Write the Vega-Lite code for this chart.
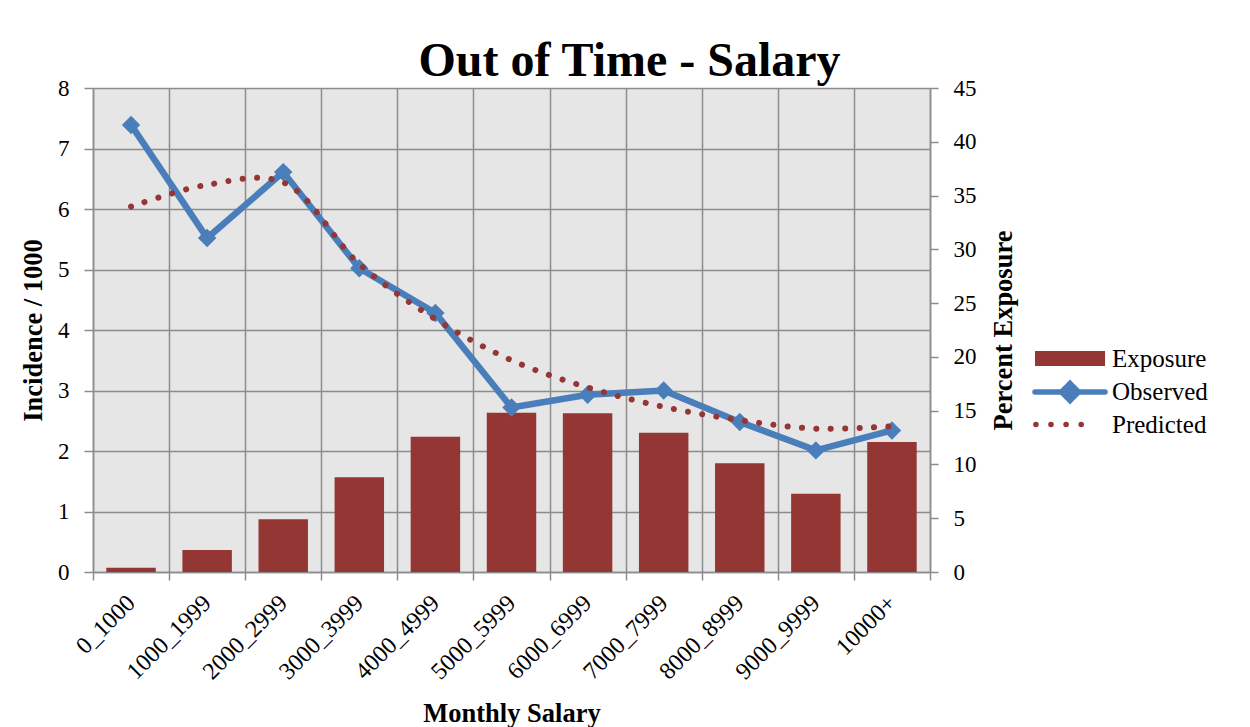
{
  "$schema": "https://vega.github.io/schema/vega-lite/v6.json",
  "autosize": {"type": "none"},
  "padding": {"left": 93, "top": 88, "right": 320, "bottom": 155},
  "width": 837,
  "height": 484,
  "background": "white",
  "title": {
    "text": "Out of Time - Salary",
    "fontSize": 48,
    "fontWeight": "bold",
    "font": "Liberation Serif",
    "color": "black",
    "anchor": "middle",
    "dx": 118,
    "dy": 13,
    "offset": 4
  },
  "data": {
    "values": [
      {"salary": "0_1000", "exposure": 0.4, "observed": 7.39, "predicted": 6.04},
      {"salary": "1000_1999", "exposure": 2.05, "observed": 5.52, "predicted": 6.4},
      {"salary": "2000_2999", "exposure": 4.9, "observed": 6.61, "predicted": 6.44},
      {"salary": "3000_3999", "exposure": 8.8, "observed": 5.02, "predicted": 5.09},
      {"salary": "4000_4999", "exposure": 12.58, "observed": 4.28, "predicted": 4.18},
      {"salary": "5000_5999", "exposure": 14.81, "observed": 2.72, "predicted": 3.5},
      {"salary": "6000_6999", "exposure": 14.75, "observed": 2.93, "predicted": 3.05},
      {"salary": "7000_7999", "exposure": 12.95, "observed": 3.0, "predicted": 2.73},
      {"salary": "8000_8999", "exposure": 10.1, "observed": 2.48, "predicted": 2.51},
      {"salary": "9000_9999", "exposure": 7.28, "observed": 2.01, "predicted": 2.37},
      {"salary": "10000+", "exposure": 12.09, "observed": 2.34, "predicted": 2.41}
    ]
  },
  "encoding": {
    "x": {
      "field": "salary",
      "type": "nominal",
      "sort": null,
      "scale": {"paddingInner": 0, "paddingOuter": 0},
      "axis": {
        "title": "Monthly Salary",
        "labelAngle": -45,
        "labelAlign": "right",
        "labelBaseline": "middle",
        "labelPadding": 19,
        "labelFontSize": 24,
        "tickBand": "extent",
        "grid": true,
        "tickSize": 8,
        "titlePadding": 17
      }
    }
  },
  "layer": [
    {
      "mark": {"type": "bar", "width": {"band": 0.65}},
      "encoding": {
        "y": {
          "field": "exposure",
          "type": "quantitative",
          "scale": {"domain": [0, 45], "nice": false},
          "axis": {
            "orient": "right",
            "title": "Percent Exposure",
            "values": [0, 5, 10, 15, 20, 25, 30, 35, 40, 45],
            "grid": false,
            "tickSize": 8,
            "labelPadding": 15,
            "titleAngle": 270,
            "titleBaseline": "top",
            "titlePadding": 14
          }
        },
        "color": {
          "datum": "Exposure",
          "type": "nominal",
          "scale": {
            "domain": ["Exposure", "Observed", "Predicted"],
            "range": ["#943634", "#4a7ebb", "#943634"]
          },
          "legend": {
            "title": null,
            "orient": "none",
            "legendX": 938,
            "legendY": 258,
            "symbolSize": 289,
            "labelFontSize": 25,
            "labelOffset": 56,
            "rowPadding": 0.5,
            "encode": {
              "symbols": {
                "update": {
                  "shape": {"signal": "datum.value === 'Exposure' ? 'M-1,-0.88H7.24V0.88H-1Z' : datum.value === 'Observed' ? 'M-1,0H7.24M3.12,-1L4.12,0L3.12,1L2.12,0Z' : 'M-0.9,0H6.2'"},
                  "fill": {"signal": "datum.value === 'Exposure' ? '#943634' : datum.value === 'Observed' ? '#4a7ebb' : 'transparent'"},
                  "stroke": {"signal": "datum.value === 'Exposure' ? 'transparent' : datum.value === 'Observed' ? '#4a7ebb' : '#943634'"},
                  "strokeWidth": {"signal": "datum.value === 'Exposure' ? 0 : 5.5"},
                  "strokeDash": {"signal": "datum.value === 'Predicted' ? [0.1, 15] : [1, 0]"},
                  "strokeCap": {"value": "round"},
                  "opacity": {"value": 1}
                }
              }
            }
          }
        }
      }
    },
    {
      "layer": [
        {
          "mark": {
            "type": "line",
            "strokeWidth": 6.5,
            "point": {"shape": "diamond", "size": 340, "filled": true, "opacity": 1}
          },
          "encoding": {
            "y": {
              "field": "observed",
              "type": "quantitative",
              "scale": {"domain": [0, 8], "nice": false},
              "axis": {
                "title": "Incidence / 1000",
                "values": [0, 1, 2, 3, 4, 5, 6, 7, 8],
                "format": "d",
                "grid": true,
                "tickSize": 9,
                "labelPadding": 15,
                "titlePadding": 10
              }
            },
            "color": {"datum": "Observed", "type": "nominal"}
          }
        },
        {
          "mark": {
            "type": "line",
            "strokeWidth": 6,
            "strokeDash": [0.1, 14.3],
            "strokeCap": "round",
            "interpolate": "catmull-rom"
          },
          "encoding": {
            "y": {"field": "predicted", "type": "quantitative"},
            "color": {"datum": "Predicted", "type": "nominal"}
          }
        }
      ]
    }
  ],
  "resolve": {"scale": {"y": "independent"}},
  "config": {
    "font": "Liberation Serif",
    "view": {"fill": "#e6e6e6", "stroke": null},
    "axis": {
      "domainColor": "#8c8c8c",
      "domainWidth": 1.5,
      "tickColor": "#8c8c8c",
      "tickWidth": 1.5,
      "gridColor": "#8c8c8c",
      "gridWidth": 1.5,
      "gridOpacity": 1,
      "labelColor": "black",
      "titleColor": "black",
      "labelFontSize": 23,
      "titleFontSize": 26.5,
      "titleFontWeight": "bold",
      "labelFont": "Liberation Serif",
      "titleFont": "Liberation Serif"
    },
    "legend": {"labelColor": "black", "labelFont": "Liberation Serif"}
  }
}
